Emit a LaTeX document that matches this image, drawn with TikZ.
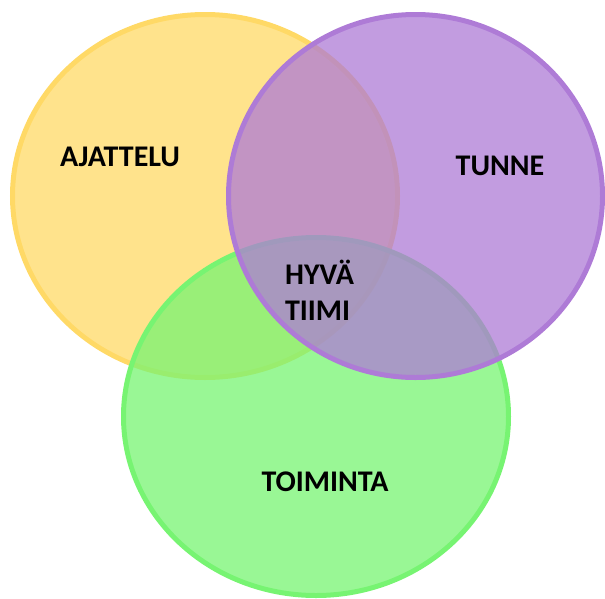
\documentclass[tikz,border=0pt]{standalone}
\usepackage{fontspec}
\setmainfont{Carlito}
\definecolor{vyellow}{HTML}{FFD966}
\definecolor{vpurple}{HTML}{AE7BD6}
\definecolor{vgreen}{HTML}{77F472}
\tikzset{
  setcircle/.style={draw=#1, fill=#1, fill opacity=0.75, line width=5pt},
  setlabel/.style={font=\bfseries\fontsize{30}{36}\selectfont, text=black, inner sep=0pt, anchor=base},
}
\begin{document}
\begin{tikzpicture}[x=1pt,y=-1pt]
\useasboundingbox (0,0) rectangle (605,598);
% the three sets
\draw[setcircle=vyellow] (205,196) ellipse [x radius=192.5, y radius=181.5];
\draw[setcircle=vgreen] (316,416.5) ellipse [x radius=192.5, y radius=179];
\draw[setcircle=vpurple] (415.5,196) ellipse [x radius=187, y radius=181.5];
% labels
\node[setlabel] (ajattelu) at (120,166.5) {AJATTELU};
\node[setlabel] (tunne) at (500,175.5) {TUNNE};
\node[setlabel] (toiminta) at (325,491) {TOIMINTA};
\node[setlabel, anchor=center, align=left] (tiimi) at (319.5,290) {HYVÄ\\TIIMI};
\end{tikzpicture}
\end{document}
